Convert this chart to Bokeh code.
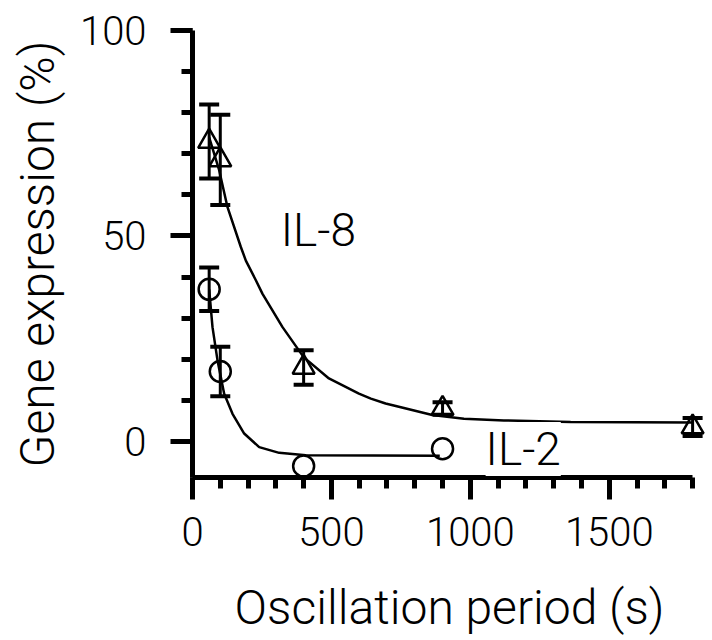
from bokeh.plotting import figure
from bokeh.models import ColumnDataSource, Whisker, TeeHead, Label, SingleIntervalTicker, Range1d
from bokeh.embed import file_html
from bokeh.resources import INLINE

# ---- data ----
period_il8 = [60, 100, 400, 900, 1800]
expr_il8 = [73, 68.5, 18, 8, 3.5]
err_il8 = [9, 11, 4.2, 1.5, 2.2]

period_il2 = [60, 100, 400, 900]
expr_il2 = [37, 17, -6, -1.8]
err_il2 = [5.3, 6, 0, 0]

fit_il8_x = [60, 96, 126, 174, 192, 228, 252, 324, 400, 491, 599, 642, 695, 761, 863, 977, 1121, 1361, 1800]
fit_il8_y = [74, 66, 57, 47.3, 44, 39.2, 35.9, 27.8, 20.5, 15.3, 11.6, 10.4, 9.2, 8.1, 6.4, 5.5, 5.1, 4.7, 4.6]

fit_il2_x = [60, 72, 90, 114, 144, 186, 240, 312, 408, 890]
fit_il2_y = [37, 27.8, 19.7, 11.6, 6.7, 1.9, -1.4, -2.8, -3.4, -3.5]

x_ticks_major = 500
y_ticks_major = 50
x_title = "Oscillation period (s)"
y_title = "Gene expression (%)"

FONT = "Roboto Light"

p = figure(width=712, height=640, output_backend="svg", toolbar_location=None,
           x_range=Range1d(0, 1850), y_range=Range1d(-8.8, 100),
           min_border_left=192, min_border_right=6, min_border_top=30, min_border_bottom=163)
p.outline_line_color = None
p.xgrid.visible = False
p.ygrid.visible = False

p.xaxis.ticker = SingleIntervalTicker(interval=x_ticks_major, num_minor_ticks=5)
p.yaxis.ticker = SingleIntervalTicker(interval=y_ticks_major, num_minor_ticks=5)
p.xaxis.bounds = (0, 1800)

for ax in (p.xaxis, p.yaxis):
    ax.axis_line_width = 5
    ax.axis_line_color = "black"
    ax.major_tick_line_width = 5
    ax.minor_tick_line_width = 5
    ax.major_tick_line_color = "black"
    ax.minor_tick_line_color = "black"
    ax.major_tick_out = 22
    ax.major_tick_in = 0
    ax.minor_tick_out = 11
    ax.minor_tick_in = 0
    ax.major_label_text_font = FONT
    ax.major_label_text_font_size = "40px"
    ax.major_label_text_color = "black"
    ax.axis_label_text_font = FONT
    ax.axis_label_text_font_size = "48px"
    ax.axis_label_text_font_style = "normal"
    ax.axis_label_text_color = "black"

p.xaxis.axis_label = x_title
p.yaxis.axis_label = y_title
p.xaxis.major_label_standoff = 17
p.yaxis.major_label_standoff = 24
p.xaxis.axis_label_standoff = 30
p.yaxis.axis_label_standoff = 11

# fitted curves
p.line(fit_il8_x, fit_il8_y, line_color="black", line_width=2.5)
p.line(fit_il2_x, fit_il2_y, line_color="black", line_width=2.5)

# error bars (only where an error is shown)
def whisker_source(xs, ys, es):
    keep = [i for i, e in enumerate(es) if e > 0]
    return ColumnDataSource(dict(x=[xs[i] for i in keep],
                                 lo=[ys[i] - es[i] for i in keep],
                                 hi=[ys[i] + es[i] for i in keep]))

for src in (whisker_source(period_il8, expr_il8, err_il8),
            whisker_source(period_il2, expr_il2, err_il2)):
    w = Whisker(source=src, base="x", upper="hi", lower="lo", line_width=3, line_color="black",
                upper_head=TeeHead(size=20, line_width=4, line_color="black"),
                lower_head=TeeHead(size=20, line_width=4, line_color="black"))
    p.add_layout(w)

src8 = ColumnDataSource(dict(x=period_il8, y=expr_il8))
src2 = ColumnDataSource(dict(x=period_il2, y=expr_il2))
p.scatter("x", "y", source=src8, marker="triangle", size=22, fill_color=None,
          line_color="black", line_width=2.5)
p.scatter("x", "y", source=src2, marker="circle", size=21, fill_color=None,
          line_color="black", line_width=2.5)

p.add_layout(Label(x=318, y=51.4, text="IL-8", text_font=FONT, text_font_size="46px",
                   text_baseline="alphabetic", text_color="black"))
p.add_layout(Label(x=1055, y=-1.85, text="IL-2", text_font=FONT, text_font_size="46px",
                   text_baseline="alphabetic", text_color="black",
                   background_fill_color="white"))

open("out.html", "w").write(file_html(p, INLINE))
